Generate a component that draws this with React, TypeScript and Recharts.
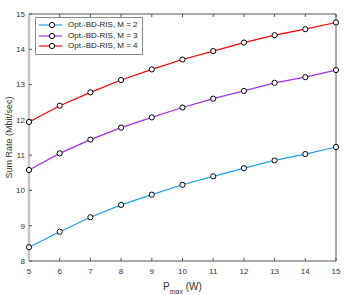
import React from 'react';
import { LineChart, Line, XAxis, YAxis, Legend } from 'recharts';

const pmax = [5, 6, 7, 8, 9, 10, 11, 12, 13, 14, 15];
const m2 = [8.39, 8.83, 9.24, 9.59, 9.88, 10.16, 10.4, 10.63, 10.85, 11.03, 11.23];
const m3 = [10.58, 11.05, 11.44, 11.78, 12.07, 12.35, 12.6, 12.82, 13.05, 13.21, 13.41];
const m4 = [11.94, 12.4, 12.78, 13.13, 13.43, 13.71, 13.95, 14.19, 14.4, 14.57, 14.76];
const yTicks = [8, 9, 10, 11, 12, 13, 14, 15];
const seriesNames = ['Opt.-BD-RIS, M = 2', 'Opt.-BD-RIS, M = 3', 'Opt.-BD-RIS, M = 4'];
const colors = ['#1a9ff0', '#a030f0', '#ff0000'];

const data = pmax.map((p, i) => ({ p, m2: m2[i], m3: m3[i], m4: m4[i] }));

const FONT = 'Liberation Sans, Arial, sans-serif';
const tickStyle = { fontSize: 8, fill: '#333', fontFamily: FONT };

const Dot = (props: any) => {
  const { cx, cy } = props;
  if (cx == null || cy == null) return null;
  return <circle cx={cx} cy={cy} r={2.6} fill="#fff" stroke="#000" strokeWidth={1} />;
};

const NoTick = () => <g />;

const LegendBox = (props: any) => {
  const payload = props.payload || [];
  return (
    <div
      style={{
        border: '1px solid #8a8a8a',
        background: '#fff',
        padding: '2px 4px 2px 2px',
        fontFamily: FONT,
        fontSize: 8,
        color: '#222',
        lineHeight: '10.5px',
        width: 'max-content',
      }}
    >
      {payload.map((e: any, i: number) => (
        <div key={i} style={{ display: 'flex', alignItems: 'center', whiteSpace: 'nowrap' }}>
          <svg width={26} height={10} style={{ marginRight: 4 }}>
            <line x1={1} y1={5} x2={24} y2={5} stroke={e.color} strokeWidth={1.2} />
            <circle cx={14} cy={5} r={2.6} fill="#fff" stroke="#000" strokeWidth={1} />
          </svg>
          <span>{e.value}</span>
        </div>
      ))}
    </div>
  );
};

const YLabel = (props: any) => {
  const vb = props.viewBox || {};
  const x = vb.x + 9;
  const y = vb.y + vb.height / 2;
  return (
    <text
      x={x}
      y={y}
      transform={`rotate(-90 ${x} ${y})`}
      textAnchor="middle"
      dominantBaseline="central"
      fontSize={9}
      fill="#333"
      fontFamily={FONT}
    >
      Sum Rate (Mbit/sec)
    </text>
  );
};

const XLabel = (props: any) => {
  const vb = props.viewBox || {};
  const x = vb.x + vb.width / 2;
  const y = vb.y + 29;
  return (
    <text x={x} y={y} textAnchor="middle" fontSize={10} fill="#333" fontFamily={FONT}>
      <tspan>P</tspan>
      <tspan fontSize={7} dy={4}>max</tspan>
      <tspan dy={-4}> (W)</tspan>
    </text>
  );
};

export default function App() {
  return (
    <div style={{ position: 'absolute', left: 0, top: 0, width: 349, height: 295, background: '#fff' }}>
      <LineChart
        width={349}
        height={295}
        data={data}
        margin={{ top: 13, right: 12, left: 0, bottom: 0 }}
      >
        <XAxis
          xAxisId="b"
          dataKey="p"
          type="number"
          domain={[5, 15]}
          ticks={pmax}
          height={34}
          tickSize={-3}
          tickMargin={10}
          tick={tickStyle}
          stroke="#555"
          axisLine={{ stroke: '#555', strokeWidth: 1 }}
          tickLine={{ stroke: '#555' }}
          label={<XLabel />}
        />
        <XAxis
          xAxisId="t"
          dataKey="p"
          type="number"
          orientation="top"
          domain={[5, 15]}
          ticks={pmax}
          height={1}
          tickSize={-3}
          tick={NoTick}
          axisLine={{ stroke: '#555', strokeWidth: 1 }}
          tickLine={{ stroke: '#555' }}
        />
        <YAxis
          yAxisId="l"
          type="number"
          domain={[8, 15]}
          ticks={yTicks}
          width={29}
          tickSize={-3}
          tickMargin={7}
          tick={tickStyle}
          axisLine={{ stroke: '#c4c4c4', strokeWidth: 2.5 }}
          tickLine={{ stroke: '#555' }}
          label={<YLabel />}
        />
        <YAxis
          yAxisId="r"
          type="number"
          orientation="right"
          domain={[8, 15]}
          ticks={yTicks}
          width={1}
          tickSize={-3}
          tick={NoTick}
          axisLine={{ stroke: '#555', strokeWidth: 1 }}
          tickLine={{ stroke: '#555' }}
        />
        <Legend
          layout="horizontal"
          verticalAlign="middle"
          align="center"
          wrapperStyle={{ left: 35, top: 17, width: 'auto' }}
          content={<LegendBox />}
        />
        <Line xAxisId="b" yAxisId="l" dataKey="m2" name={seriesNames[0]} stroke={colors[0]} strokeWidth={1.2} dot={<Dot />} isAnimationActive={false} />
        <Line xAxisId="b" yAxisId="l" dataKey="m3" name={seriesNames[1]} stroke={colors[1]} strokeWidth={1.2} dot={<Dot />} isAnimationActive={false} />
        <Line xAxisId="b" yAxisId="l" dataKey="m4" name={seriesNames[2]} stroke={colors[2]} strokeWidth={1.2} dot={<Dot />} isAnimationActive={false} />
      </LineChart>
    </div>
  );
}
